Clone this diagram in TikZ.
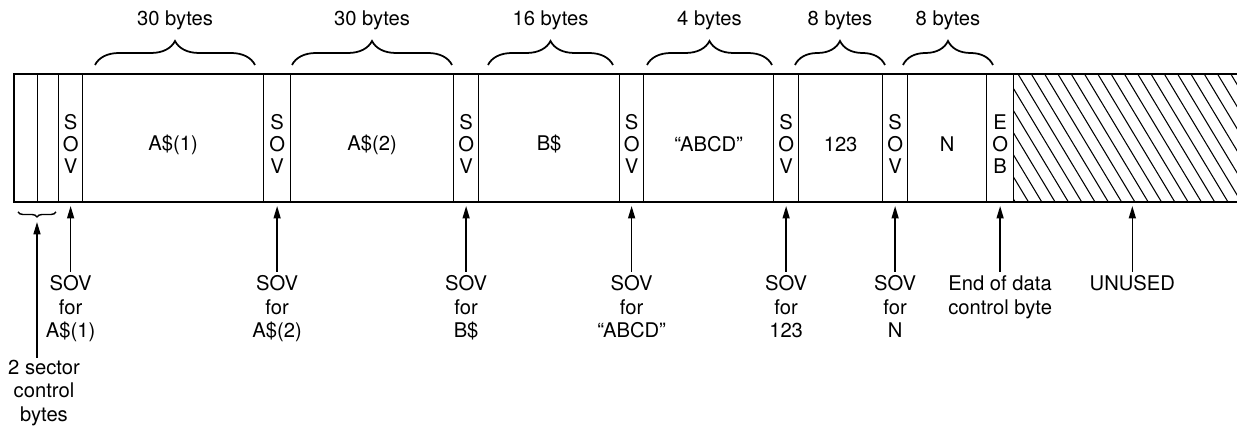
\documentclass[tikz,border=0pt]{standalone}
\usepackage{fontspec}
\setmainfont{TeX Gyre Heros}
\usetikzlibrary{arrows.meta, positioning, calc, decorations.pathreplacing}

\begin{document}
\begin{tikzpicture}[
  x=0.02cm, y=0.02cm,
  font=\fontsize{11.5}{13.3}\selectfont, >={Triangle[length=2.5mm, width=1.4mm]},
  cell/.style={rectangle, draw=black, line width=0.7pt, anchor=south west, minimum height=2.56cm, inner sep=0pt},
  celltext/.style={align=center, yshift=-0.14cm, font=\fontsize{11.5}{12.5}\selectfont},
  lab/.style={align=center, inner sep=2pt},
  arr/.style={->, line width=0.9pt, shorten >=0.08cm},
  topbrace/.style={decorate, decoration={brace, amplitude=0.48cm}, line width=1pt},
  rim/.style={line width=1.3pt},
]
\useasboundingbox (0,0) rectangle (1237,428);

% ---- cells of the sector, left to right
\foreach \l/\r/\nm/\txt in {14/37/ctla/{}, 37/58/ctlb/{}, 58/82/sova/{S\\O\\V}, 82/263/aone/{A\$(1)},
    263/290/sovb/{S\\O\\V}, 290/453/atwo/{A\$(2)}, 453/478/sovc/{S\\O\\V}, 478/619/bstr/{B\$},
    619/643/sovd/{S\\O\\V}, 643/773/abcd/{``ABCD''}, 773/798/sove/{S\\O\\V}, 798/882/num/{123},
    882/907/sovf/{S\\O\\V}, 907/986/nvar/{N}, 986/1013/eob/{E\\O\\B}}
  \node[cell, minimum width={(\r-\l)*0.02cm}, label={[celltext]center:\txt}] (\nm) at (\l,226) {};

% ---- unused part, hatched, open to the right
\node[anchor=south west, inner sep=0pt, minimum width=4.48cm, minimum height=2.56cm] (unused) at (1013,226) {};
\begin{scope}
  \clip (1013,226) rectangle (1237,354);
  \foreach \k in {-7,...,17}
    \draw[line width=0.6pt] ({1018+\k*13.3},354) -- ++(77,-128);
\end{scope}
\draw[rim] (1237,354) -- (14,354) -- (14,226) -- (1237,226);

% ---- byte counts over the fields
\foreach \l/\r/\nm/\txt in {95/255/cnta/30 bytes, 292/452/cntb/30 bytes, 488/613/cntc/16 bytes,
    647/772/cntd/4 bytes, 795/885/cnte/8 bytes, 903/993/cntf/8 bytes}{
  \draw[topbrace] (\l,363) -- (\r,363);
  \node (\nm) at ({(\l+\r)/2},408) {\txt};
}

% ---- small brace under the two control bytes
\draw[decorate, decoration={brace, amplitude=0.1cm}, line width=0.8pt] (56,216) -- (18,216);
\coordinate (ctltip) at (37,206);
\node[lab, anchor=north, inner sep=1pt] (lctl) at (44,70) {2 sector\\control\\bytes};
\draw[arr, shorten >=0pt] (lctl.north -| ctltip) -- (ctltip);

% ---- labels below, each with an arrow up
\node[lab, below=1.4cm of sova] (lsova) {SOV\\for\\A\$(1)};
\node[lab, below=1.4cm of sovb] (lsovb) {SOV\\for\\A\$(2)};
\node[lab, below=1.4cm of sovc] (lsovc) {SOV\\for\\B\$};
\node[lab, below=1.4cm of sovd] (lsovd) {SOV\\for\\``ABCD''};
\node[lab, below=1.4cm of sove] (lsove) {SOV\\for\\123};
\node[lab, below=1.4cm of sovf] (lsovf) {SOV\\for\\N};
\node[lab, below=1.4cm of eob]  (leob)  {End of data\\control byte};
\node[lab, below=1.4cm of unused, xshift=0.14cm] (lunused) {UNUSED};

\foreach \c in {sova, sovb, sovc, sovd, sove, sovf, eob}
  \draw[arr] (l\c) -- (\c);
\draw[arr] (lunused) -- (lunused |- unused.south);

\end{tikzpicture}
\end{document}
